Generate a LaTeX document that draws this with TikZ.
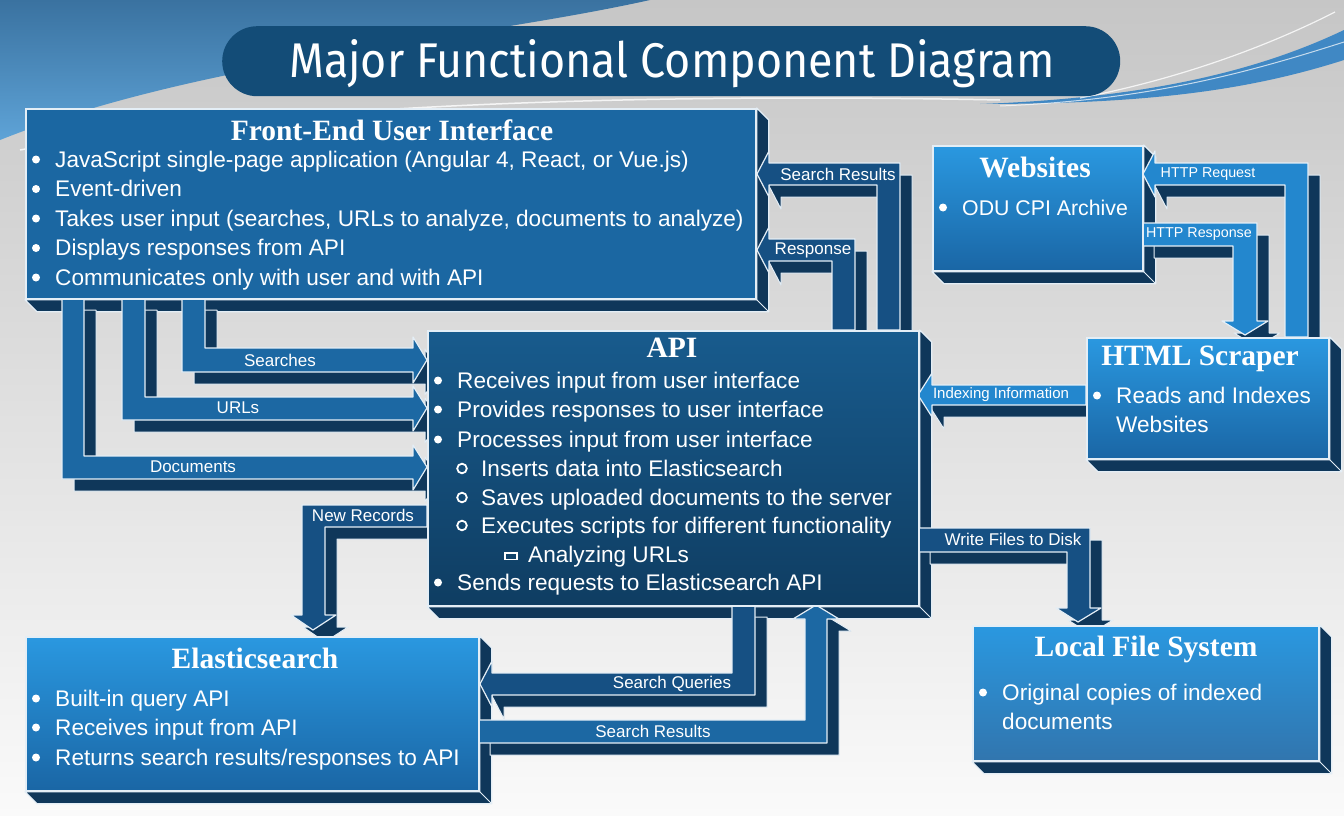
\documentclass[tikz,border=0pt]{standalone}
\usepackage{fontspec}
\usepackage{graphicx}
\usetikzlibrary{calc}
\newfontfamily\bodyfont{Liberation Sans}
\newfontfamily\headfont{Liberation Serif}
\newfontfamily\titlefont{Fira Sans}
\definecolor{bgtop}{HTML}{C6C6C6}
\definecolor{bgmid}{HTML}{E2E2E2}
\definecolor{bgbot}{HTML}{FAFAFA}
\definecolor{swA}{HTML}{3A72A0}
\definecolor{swB}{HTML}{5EA3D7}
\definecolor{swC}{HTML}{4088C4}
\definecolor{titleblue}{HTML}{134C77}
\definecolor{feblue}{HTML}{1B67A2}
\definecolor{apitop}{HTML}{185B8D}
\definecolor{apibot}{HTML}{0F3D62}
\definecolor{brtop}{HTML}{2A98E0}
\definecolor{brbot}{HTML}{1A66A5}
\definecolor{extc}{HTML}{0F375A}
\definecolor{edgec}{HTML}{E4EEF6}
\definecolor{bandA}{HTML}{1C68A3}
\definecolor{bandD}{HTML}{165083}
\definecolor{bandH}{HTML}{2387CE}
\pgfdeclarelayer{bgl}
\pgfdeclarelayer{extl}
\pgfdeclarelayer{shl}
\pgfdeclarelayer{bfl}
\pgfsetlayers{bgl,extl,shl,bfl,main}
\tikzset{
  box/.style={draw=edgec, line width=1.8pt, anchor=north west, inner sep=0pt},
  extr/.style={fill=extc, draw=edgec, line width=1.2pt, line join=round},
  bshadow/.style={fill=extc, draw=edgec, line width=1pt, line join=round},
  bfront/.style={draw=edgec, line width=1.2pt, line join=round},
  txt/.style={anchor=base west, text=white, inner sep=0pt, font=\bodyfont\fontsize{22.6}{25}\selectfont},
  head/.style={anchor=base, text=white, inner sep=0pt, font=\headfont\bfseries\fontsize{29.5}{32}\selectfont},
  lbl/.style={text=white, inner sep=0pt, font=\bodyfont\fontsize{17}{19}\selectfont},
  slbl/.style={text=white, inner sep=0pt, font=\bodyfont\fontsize{14.3}{16}\selectfont}
}
\newcommand\extr[1]{%
  \begin{pgfonlayer}{extl}
  \draw[extr] (#1.north east) -- ++(12,12) |- ($(#1.south west)+(12,12)$) -- (#1.south west) -- (#1.south east) -- cycle;
  \draw[edgec, line width=1pt] (#1.south east) -- ++(12,12);
  \end{pgfonlayer}}
\newcommand\band[2]{%
  \begin{pgfonlayer}{shl}\draw[bshadow, shift={(12,12)}] #2;\end{pgfonlayer}%
  \begin{pgfonlayer}{bfl}\draw[bfront, fill=#1] #2;\end{pgfonlayer}}
\newcommand\bul[4]{\fill[white] ({#1-19},{#2-7.5}) circle (4); \node[txt] (#4) at (#1,#2) {#3};}
\newcommand\sbul[4]{\draw[white, line width=1.8pt] ({#1-19},{#2-7.5}) circle (4.8); \node[txt] (#4) at (#1,#2) {#3};}
\newcommand\qbul[4]{\draw[white, line width=1.8pt] ({#1-23},{#2-9}) rectangle ({#1-11},{#2-2.5}); \node[txt] (#4) at (#1,#2) {#3};}
\begin{document}
\begin{tikzpicture}[x=1pt,y=-1pt]
\useasboundingbox (0,0) rectangle (1344,816);
\begin{pgfonlayer}{bgl}
  \shade[top color=bgtop, middle color=bgmid, bottom color=bgbot] (0,0) rectangle (1344,816);
  \shade[top color=swA, bottom color=swB] (0,0) -- (650,0) .. controls (470,40) and (200,60) .. (0,140) -- cycle;
  \draw[white, line width=1.5pt, opacity=0.8] (20,150) .. controls (250,108) and (600,92) .. (1000,100);
  \fill[swC] (980,104) .. controls (1150,98) and (1260,70) .. (1344,30) -- (1344,60) .. controls (1250,90) and (1150,104) .. (980,104) -- cycle;
  \draw[white, line width=1.2pt, opacity=0.8] (1080,98) .. controls (1200,75) and (1290,35) .. (1335,12);
  \draw[white, line width=1pt, opacity=0.7] (1000,106) .. controls (1150,100) and (1250,72) .. (1344,42);
\end{pgfonlayer}

% title
\node[fill=titleblue, rounded corners=35pt, minimum width=898, minimum height=70, anchor=north west, inner sep=0pt] (title) at (222,26) {};
\node[anchor=base, inner sep=0pt, text=white] (ttl) at (672,77) {\resizebox{765pt}{38pt}{\titlefont Major Functional Component Diagram}};

% boxes
\node[box, fill=feblue, minimum width=730, minimum height=190] (fe) at (25,108) {};
\node[box, top color=apitop, bottom color=apibot, minimum width=491, minimum height=275] (api) at (427,330) {};
\node[box, top color=brtop, bottom color=brbot, minimum width=210, minimum height=125] (web) at (932,145) {};
\node[box, top color=brtop, bottom color=brbot, minimum width=242, minimum height=121] (scr) at (1086,337) {};
\node[box, top color=brtop, bottom color=brbot, minimum width=453, minimum height=154] (es) at (25,636) {};
\node[box, top color=brtop, bottom color=brbot!90!white, minimum width=346, minimum height=135] (lfs) at (972,625) {};
\extr{fe}\extr{api}\extr{web}\extr{scr}\extr{es}\extr{lfs}

% bands: FE -> API
\band{bandA}{(182,298) -- (205,298) -- (205,348) -- (413,348) -- (413,337) -- (427,360) -- (413,383) -- (413,372) -- (182,372) -- cycle}
\band{bandA}{(122,298) -- (145,298) -- (145,397) -- (413,397) -- (413,386) -- (427,408) -- (413,431) -- (413,420) -- (122,420) -- cycle}
\band{bandA}{(62,298) -- (84,298) -- (84,456) -- (413,456) -- (413,445) -- (427,467) -- (413,490) -- (413,479) -- (62,479) -- cycle}
% API -> FE
\band{bandD}{(877,330) -- (877,185) -- (769,185) -- (769,197) -- (757,174) -- (769,151) -- (769,163) -- (900,163) -- (900,330) -- cycle}
\band{bandD}{(832,330) -- (832,261) -- (769,261) -- (769,273) -- (757,250) -- (769,227) -- (769,239) -- (855,239) -- (855,330) -- cycle}
% HTTP
\band{bandH}{(1285,337) -- (1285,185) -- (1155,185) -- (1155,197) -- (1143,174) -- (1155,151) -- (1155,163) -- (1308,163) -- (1308,337) -- cycle}
\band{bandH}{(1142,223) -- (1257,223) -- (1257,321) -- (1268,321) -- (1245,335) -- (1222,321) -- (1233,321) -- (1233,246) -- (1142,246) -- cycle}
% indexing
\band{bandH}{(1086,385) -- (932,385) -- (932,373) -- (918,395) -- (932,417) -- (932,405) -- (1086,405) -- cycle}
% write files
\band{bandD}{(918,528) -- (1090,528) -- (1090,608) -- (1101,608) -- (1078,622) -- (1056,608) -- (1067,608) -- (1067,552) -- (918,552) -- cycle}
% new records
\band{bandD}{(427,505) -- (302,505) -- (302,615) -- (291,615) -- (313,630) -- (336,615) -- (325,615) -- (325,527) -- (427,527) -- cycle}
% search queries
\band{bandD}{(732,605) -- (755,605) -- (755,695) -- (492,695) -- (492,707) -- (480,684) -- (492,661) -- (492,673) -- (732,673) -- cycle}
% search results bottom
\band{bandA}{(478,720) -- (805,720) -- (805,619) -- (793,619) -- (816,605) -- (839,619) -- (827,619) -- (827,743) -- (478,743) -- cycle}

% band labels
\node[lbl] (l1) at (280,360) {Searches};
\node[lbl] (l2) at (238,408) {URLs};
\node[lbl] (l3) at (193,467) {Documents};
\node[lbl] (l4) at (838,174) {Search Results};
\node[lbl] (l5) at (813,250) {Response};
\node[slbl] (l6) at (1208,174) {HTTP Request};
\node[slbl] (l7) at (1199,234) {HTTP Response};
\node[slbl, font=\bodyfont\fontsize{15}{17}\selectfont] (l8) at (1001,395) {Indexing Information};
\node[lbl] (l9) at (1013,539) {Write Files to Disk};
\node[lbl] (l10) at (363,515) {New Records};
\node[lbl] (l11) at (672,684) {Search Queries};
\node[lbl] (l12) at (653,731) {Search Results};

% FE text
\node[head] (feh) at (392,140) {Front-End User Interface};
\bul{55}{167}{JavaScript single-page application (Angular 4, React, or Vue.js)}{fe1}
\bul{55}{196.5}{Event-driven}{fe2}
\bul{55}{226}{Takes user input (searches, URLs to analyze, documents to analyze)}{fe3}
\bul{55}{255.5}{Displays responses from API}{fe4}
\bul{55}{285}{Communicates only with user and with API}{fe5}

% API text
\node[head] (apih) at (672,357) {API};
\bul{457}{388}{Receives input from user interface}{a1}
\bul{457}{417}{Provides responses to user interface}{a2}
\bul{457}{447}{Processes input from user interface}{a3}
\sbul{481}{476}{Inserts data into Elasticsearch}{a4}
\sbul{481}{505}{Saves uploaded documents to the server}{a5}
\sbul{481}{533}{Executes scripts for different functionality}{a6}
\qbul{528}{562}{Analyzing URLs}{a7}
\bul{457}{590}{Sends requests to Elasticsearch API}{a8}

% Websites
\node[head] (webh) at (1035,177) {Websites};
\fill[white] (943,207.5) circle (4);
\node[txt, font=\bodyfont\fontsize{21.3}{24}\selectfont] (w1) at (962,215) {ODU CPI Archive};

% HTML scraper
\node[head] (scrh) at (1200,365) {HTML Scraper};
\bul{1116}{403}{Reads and Indexes}{s1}
\node[txt] (s2) at (1116,432) {Websites};

% Elasticsearch
\node[head] (esh) at (255,668) {Elasticsearch};
\bul{55}{706}{Built-in query API}{e1}
\bul{55}{735}{Receives input from API}{e2}
\bul{55}{765}{Returns search results/responses to API}{e3}

% Local file system
\node[head] (lfsh) at (1146,656) {Local File System};
\bul{1002}{700}{Original copies of indexed}{f1}
\node[txt] (f2) at (1002,729) {documents};
\end{tikzpicture}
\end{document}
